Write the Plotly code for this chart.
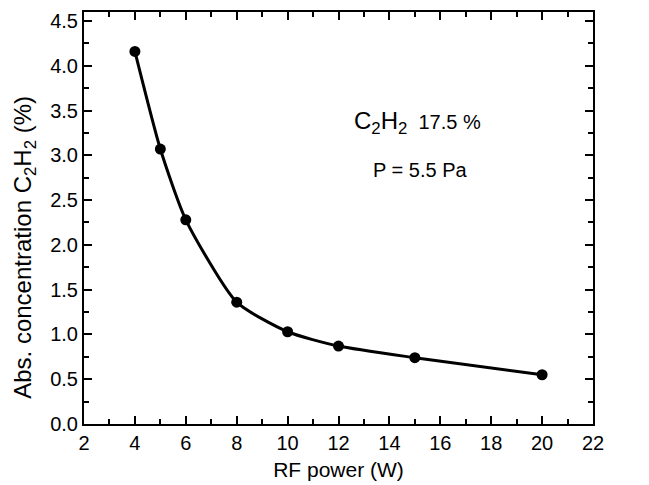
import plotly.graph_objects as go

rf_power = [4, 5, 6, 8, 10, 12, 15, 20]
concentration = [4.16, 3.07, 2.28, 1.36, 1.03, 0.87, 0.74, 0.55]
errors = [0.02, 0.03, 0.04, 0.02, 0.02, 0.02, 0.02, 0.02]

fig = go.Figure()
fig.add_trace(go.Scatter(
    x=rf_power, y=concentration, mode="lines+markers",
    line=dict(color="black", width=3, shape="spline", smoothing=0.6),
    marker=dict(color="black", size=11),
    error_y=dict(type="data", array=errors, color="black", thickness=1.5, width=3),
    showlegend=False,
))

font = dict(family="Liberation Sans, Arial, sans-serif", color="black")
axis_common = dict(
    showline=True, linecolor="black", linewidth=2, mirror="ticks",
    ticks="inside", ticklen=8, tickwidth=2, tickcolor="black",
    showgrid=False, zeroline=False,
    tickfont=dict(size=20, **font),
)
fig.update_xaxes(range=[2, 22], dtick=2, tick0=2,
                 minor=dict(ticks="inside", ticklen=5, tickwidth=2, tickcolor="black", dtick=1),
                 title=dict(text="RF power (W)", font=dict(size=21, **font), standoff=9),
                 **axis_common)
fig.update_yaxes(range=[0, 4.6], dtick=0.5, tick0=0, tickformat=".1f",
                 minor=dict(ticks="inside", ticklen=5, tickwidth=2, tickcolor="black", dtick=0.25),
                 **axis_common)

# y-axis title placed as rotated annotation (slightly below axis centre, as in the reference)
fig.add_annotation(x=-0.116, y=0.43, xref="paper", yref="paper", showarrow=False,
                   textangle=-90, xanchor="center", yanchor="middle",
                   text="Abs. concentration C<sub>2</sub>H<sub>2</sub> (%)",
                   font=dict(size=24, **font))

fig.add_annotation(x=15.1, y=3.37, xref="x", yref="y", showarrow=False,
                   text="<span style='font-size:24px'>C<sub>2</sub>H<sub>2</sub></span>  17.5 %",
                   font=dict(size=20, **font))
fig.add_annotation(x=15.2, y=2.84, xref="x", yref="y", showarrow=False,
                   text="P = 5.5 Pa", font=dict(size=20, **font))

fig.update_layout(
    width=649, height=485,
    margin=dict(l=76, r=64, t=2, b=69),
    plot_bgcolor="white", paper_bgcolor="white",
    font=font,
)
fig.write_html("out.html")
